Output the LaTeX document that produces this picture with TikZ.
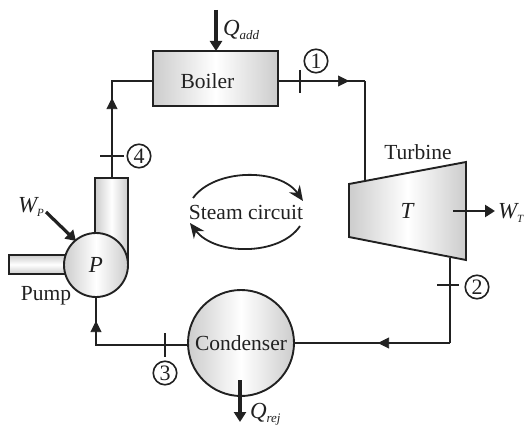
\documentclass[tikz,border=0pt]{standalone}
\usepackage{fontspec}
\setmainfont{Liberation Serif}
\usetikzlibrary{arrows.meta}
\definecolor{ink}{gray}{0.13}
\definecolor{shadeedge}{gray}{0.8}
\tikzset{
  x=1pt,y=-1pt,
  every node/.style={text=ink,inner sep=0pt,outer sep=0pt},
  lab/.style={font=\fontsize{21.5}{24}\selectfont},
  mathlab/.style={font=\fontsize{23}{25}\selectfont\itshape},
  shaded/.style={draw=ink,line width=1.9pt,shading=axis,left color=shadeedge,right color=shadeedge,middle color=white,shading angle=90},
  vshaded/.style={draw=ink,line width=1.9pt,shading=axis,top color=shadeedge,bottom color=shadeedge,middle color=white},
  thinline/.style={draw=ink,line width=1.5pt},
  pipe/.style={draw=ink,line width=2.5pt},
  tick/.style={draw=ink,line width=1.7pt},
  num/.style={circle,draw=ink,line width=1.6pt,minimum size=23.5pt,font=\fontsize{22}{24}\selectfont},
  flowtip/.style={-{Triangle[length=11pt,width=11pt]}},
  work/.style={draw=ink,line width=3.2pt,-{Triangle[length=10pt,width=12pt]}},
  cyc/.style={draw=ink,line width=1.8pt,-{Stealth[length=15pt,width=13pt]}}
}
\newcommand{\lowsub}[1]{\raisebox{-4pt}{\fontsize{13}{14}\selectfont\itshape #1}}
\newcommand{\lowcap}[1]{\raisebox{-4pt}{\fontsize{11}{12}\selectfont\itshape #1}}
\begin{document}
\begin{tikzpicture}
\useasboundingbox (0,0) rectangle (525,428);
% turbine corners
\coordinate (tnw) at (349,184);
\coordinate (tne) at (466,162);
\coordinate (tse) at (466,260);
\coordinate (tsw) at (349,237);
% pipe bends and ports
\coordinate (b1) at (365,81);
\coordinate (tin) at (365,180);
\coordinate (tout) at (450,258);
\coordinate (b2) at (450,343);
\coordinate (b3) at (96,345);
\coordinate (b4) at (112,81);
\coordinate (ptop) at (112,178);
% pump tubes (behind pump)
\path[shaded] (95,178) rectangle (128,262);
\path[vshaded] (9,255) rectangle (70,274);
% components
\node[shaded,minimum width=125pt,minimum height=55pt] (boiler) at (215.5,78.5) {};
\node[lab] (boilerlab) at (207.5,81) {Boiler};
\node[circle,shaded,minimum size=64pt,mathlab] (pump) at (96,265) {P};
\node[circle,shaded,minimum size=106pt,lab] (cond) at (241,343) {Condenser};
\path[shaded] (tnw) -- (tne) -- (tse) -- (tsw) -- cycle;
\node[mathlab] (tlabel) at (407,211) {T};
\node[lab] (turbname) at (418,152) {Turbine};
\node[lab] (pumpname) at (46,296) {Pump};
\node[lab] (steam) at (246,212) {Steam circuit};
% pipes
\draw[pipe] (boiler.east |- b1) -- (b1);
\draw[thinline] (b1) -- (tin);
\draw[thinline] (tout) -- (b2);
\draw[pipe] (b2) -- (cond.east |- b2);
\draw[pipe] (cond.west |- b3) -- (b3) -- (pump.south);
\draw[thinline] (ptop) -- (b4) -- (boiler.west |- b4);
% flow arrowheads
\coordinate (a1s) at (338,81); \coordinate (a1e) at (349,81);
\coordinate (a2s) at (390,343); \coordinate (a2e) at (378,343);
\coordinate (a3s) at (96,332); \coordinate (a3e) at (96,321);
\coordinate (a4s) at (112,108); \coordinate (a4e) at (112,98);
\draw[flowtip,ink,line width=.6pt] (a1s) -- (a1e);
\draw[flowtip,ink,line width=.6pt] (a2s) -- (a2e);
\draw[flowtip,ink,line width=.6pt] (a3s) -- (a3e);
\draw[flowtip,ink,line width=.6pt] (a4s) -- (a4e);
% state ticks and numbers
\coordinate (t1a) at (300,70); \coordinate (t1b) at (300,93);
\coordinate (t2a) at (437,285); \coordinate (t2b) at (459,285);
\coordinate (t3a) at (165,333); \coordinate (t3b) at (165,357);
\coordinate (t4a) at (100,156); \coordinate (t4b) at (124,156);
\draw[tick] (t1a) -- (t1b);
\draw[tick] (t2a) -- (t2b);
\draw[tick] (t3a) -- (t3b);
\draw[tick] (t4a) -- (t4b);
\node[num] (n1) at (316,61) {1};
\node[num] (n2) at (477,287) {2};
\node[num] (n3) at (165,373) {3};
\node[num] (n4) at (139,156) {4};
% work and heat
\coordinate (qas) at (216,10);
\draw[work] (qas) -- (boiler.north -| qas);
\coordinate (qrs) at (240,380); \coordinate (qre) at (240,422);
\draw[work] (qrs) -- (qre);
\coordinate (wts) at (453,211); \coordinate (wte) at (495,211);
\draw[work,line width=2.6pt] (wts) -- (wte);
\coordinate (wps) at (46,212); \coordinate (wpe) at (76,241);
\draw[work] (wps) -- (wpe);
\node[mathlab,anchor=west] (qadd) at (223,30) {Q\lowsub{add}};
\node[mathlab,anchor=west] (qrej) at (250,414) {Q\lowsub{rej}};
\node[mathlab,anchor=west] (wt) at (498,213) {W\lowcap{T}};
\node[mathlab,anchor=west] (wp) at (18,207) {W\lowcap{P}};
% circuit arcs
\coordinate (c1s) at (193,198); \coordinate (c1e) at (303,201);
\coordinate (c2s) at (300,226); \coordinate (c2e) at (190,223);
\draw[cyc] (c1s) .. controls (215,168) and (280,168) .. (c1e);
\draw[cyc] (c2s) .. controls (280,256) and (215,256) .. (c2e);
\end{tikzpicture}
\end{document}
